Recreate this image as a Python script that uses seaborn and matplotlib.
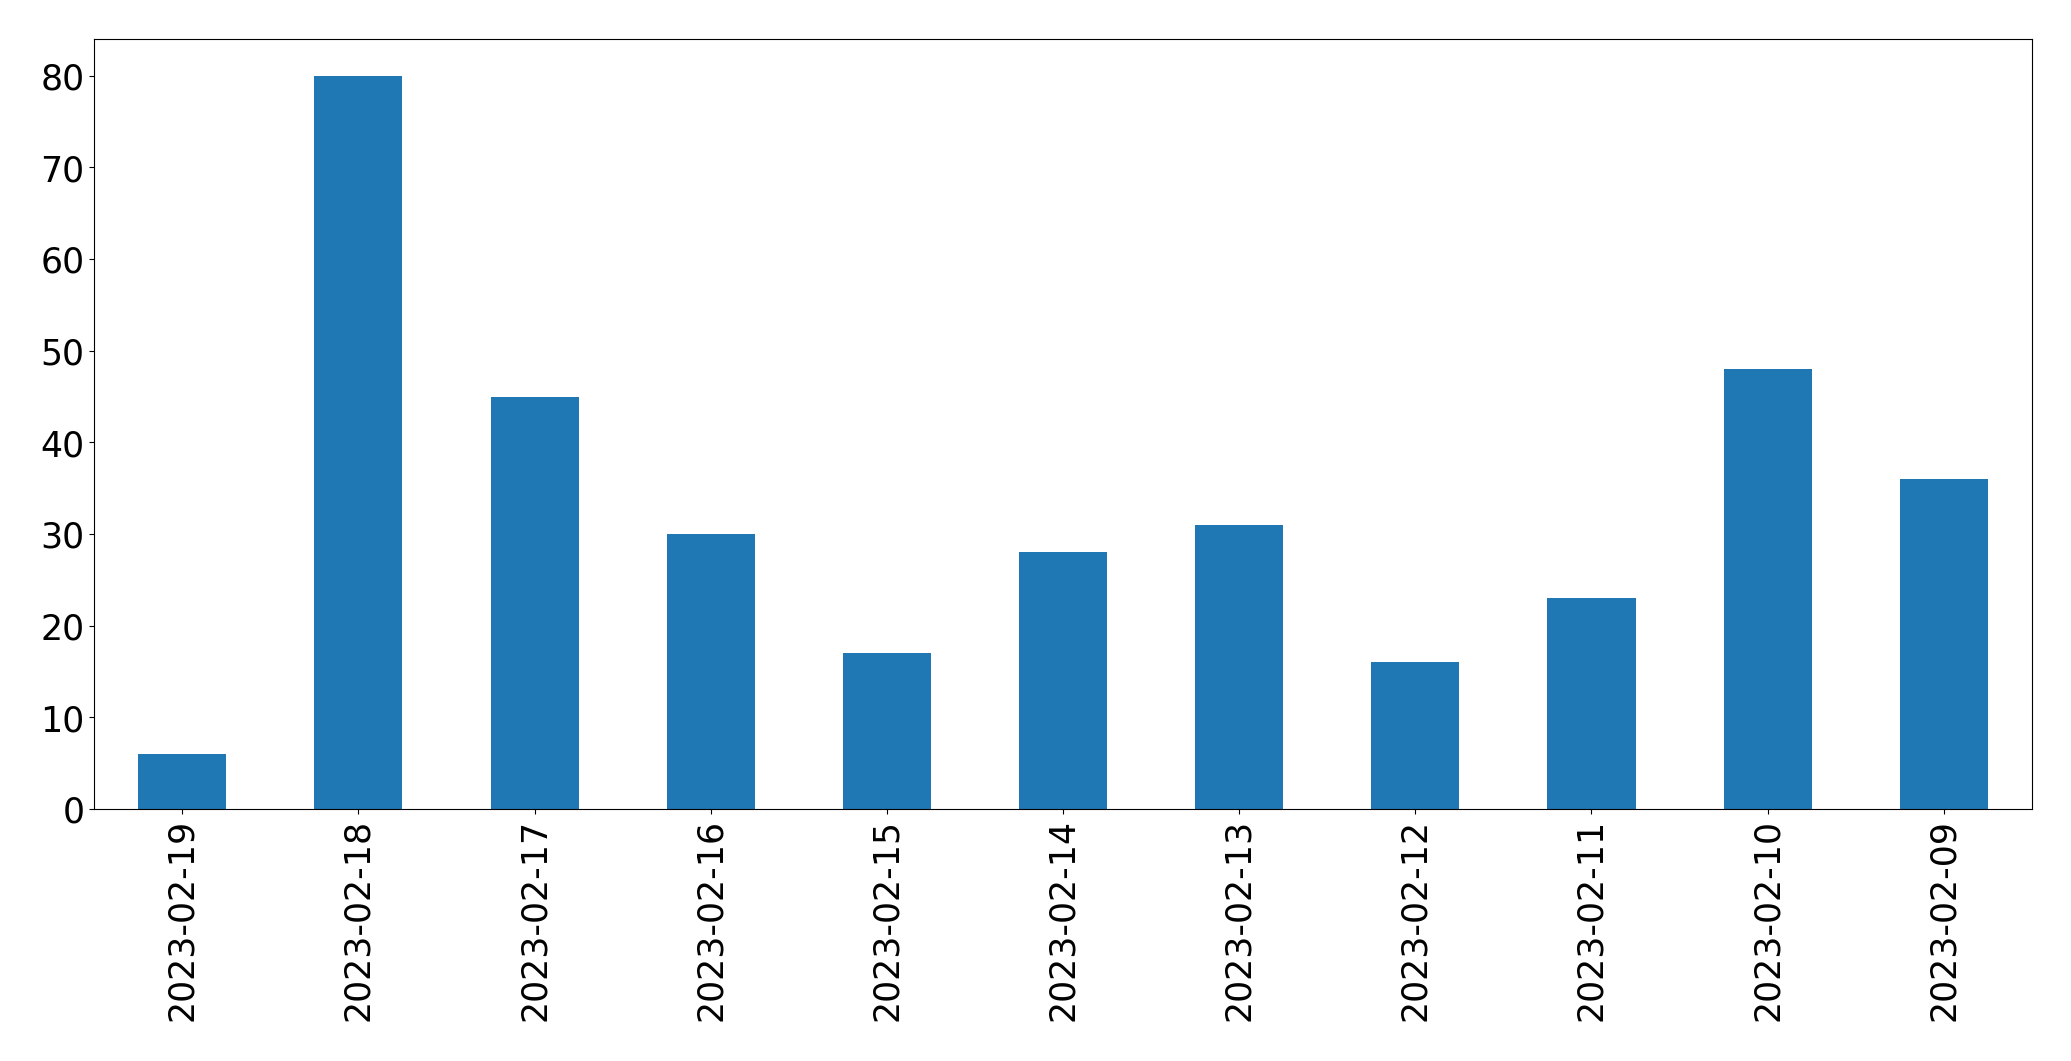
import matplotlib
matplotlib.use("Agg")
import matplotlib.pyplot as plt
import seaborn as sns
import pandas as pd

# daily counts, newest first
dates = ["2023-02-19", "2023-02-18", "2023-02-17", "2023-02-16", "2023-02-15",
         "2023-02-14", "2023-02-13", "2023-02-12", "2023-02-11", "2023-02-10",
         "2023-02-09"]
counts = [6, 80, 45, 30, 17, 28, 31, 16, 23, 48, 36]

df = pd.DataFrame({"date": dates, "count": counts})

fig, ax = plt.subplots(figsize=(20.712, 10.612), dpi=100)
fig.subplots_adjust(left=0.0455, right=0.981, top=0.963, bottom=0.2375)

sns.barplot(data=df, x="date", y="count", order=dates, color="#1f77b4",
            saturation=1, width=0.5, ax=ax)

ax.set_xlim(-0.5, len(dates) - 0.5)
ax.set_ylim(0, max(counts) * 1.05)
ax.set_xlabel("")
ax.set_ylabel("")
ax.tick_params(axis="both", labelsize=25)
ax.tick_params(axis="x", labelrotation=90)

fig.savefig("out.png", dpi=100)
